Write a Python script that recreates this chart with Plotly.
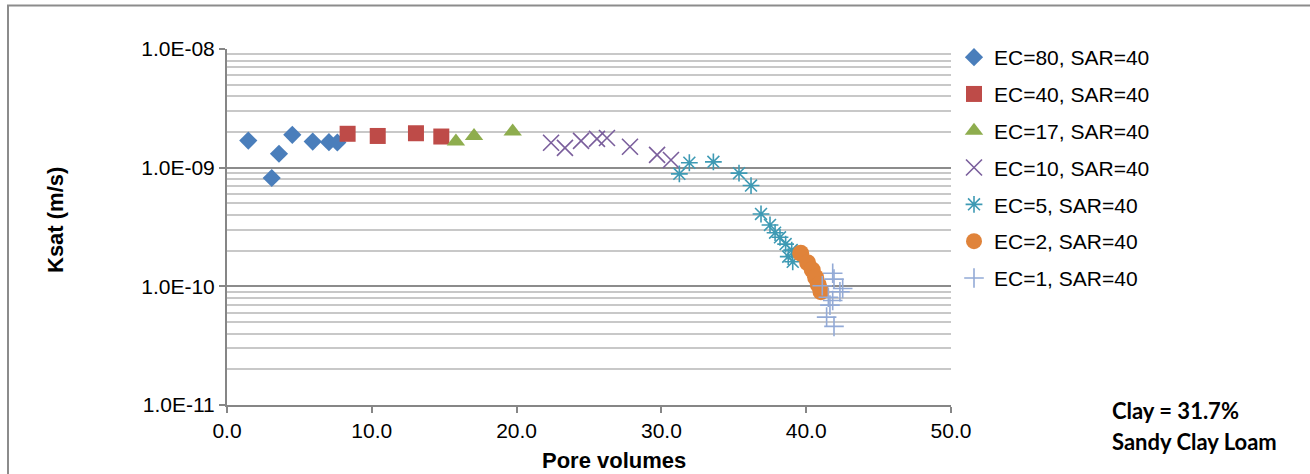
import plotly.graph_objects as go

# ---- data ----
ec80_x = [1.47, 3.09, 3.59, 4.51, 5.92, 7.04, 7.62]
ec80_y = [1.69e-9, 8.18e-10, 1.31e-9, 1.89e-9, 1.66e-9, 1.64e-9, 1.63e-9]

ec40_x = [8.33, 10.41, 13.05, 14.80]
ec40_y = [1.93e-9, 1.85e-9, 1.95e-9, 1.83e-9]

ec17_x = [15.81, 17.06, 19.73]
ec17_y = [1.66e-9, 1.85e-9, 2.02e-9]

ec10_x = [22.38, 23.34, 24.45, 25.55, 26.24, 27.83, 29.70, 30.66]
ec10_y = [1.62e-9, 1.47e-9, 1.68e-9, 1.75e-9, 1.78e-9, 1.50e-9, 1.28e-9, 1.16e-9]

ec5_x = [31.24, 31.93, 33.59, 35.36, 36.19, 36.88, 37.50, 37.85, 38.19, 38.58, 39.00, 38.76, 39.07]
ec5_y = [8.87e-10, 1.10e-9, 1.12e-9, 8.99e-10, 7.07e-10, 4.07e-10, 3.29e-10, 2.83e-10,
         2.59e-10, 2.27e-10, 2.02e-10, 1.78e-10, 1.61e-10]

ec2_x = [39.62, 40.10, 40.42, 40.65, 40.84, 41.02]
ec2_y = [1.90e-10, 1.58e-10, 1.37e-10, 1.19e-10, 1.03e-10, 9.0e-11]

ec1_x = [41.83, 41.92, 41.11, 42.52, 42.33, 41.53, 41.83, 41.64, 41.41, 41.92]
ec1_y = [1.29e-10, 1.15e-10, 1.01e-10, 9.6e-11, 9.0e-11, 8.1e-11, 7.6e-11, 6.95e-11, 5.5e-11, 4.6e-11]

series_names = ["EC=80, SAR=40", "EC=40, SAR=40", "EC=17, SAR=40", "EC=10, SAR=40",
                "EC=5, SAR=40", "EC=2, SAR=40", "EC=1, SAR=40"]

y_tickvals = [1e-11, 1e-10, 1e-9, 1e-8]
y_ticktext = ["1.0E-11", "1.0E-10", "1.0E-09", "1.0E-08"]
x_tickvals = [0, 10, 20, 30, 40, 50]

FONT = "Arial"

fig = go.Figure()

styles = [
    (ec80_x, ec80_y, dict(symbol="diamond", size=14, color="#4A7EBB")),
    (ec40_x, ec40_y, dict(symbol="square", size=16, color="#BE4B48")),
    (ec17_x, ec17_y, dict(symbol="triangle-up", size=16, color="#8EAD4E")),
    (ec10_x, ec10_y, dict(symbol="x-thin-open", size=16, color="#7A5E9C", line=dict(width=1.6, color="#7A5E9C"))),
    (ec5_x, ec5_y, dict(symbol="asterisk-open", size=14, color="#3E9AB4", line=dict(width=1.6, color="#3E9AB4"))),
    (ec2_x, ec2_y, dict(symbol="circle", size=17, color="#E0833A")),
    (ec1_x, ec1_y, dict(symbol="cross-thin-open", size=14, color="#93AAD6", line=dict(width=1.6, color="#93AAD6"))),
]

for i, (xs, ys, mk) in enumerate(styles):
    fig.add_trace(go.Scatter(x=xs, y=ys, mode="markers", name=series_names[i],
                             marker=mk, legendgroup=f"g{i}"))

minor_vals = [k * 10.0 ** n for n in (-11, -10, -9) for k in range(2, 10)]

fig.update_xaxes(range=[0, 50], tickvals=x_tickvals, tickformat=".1f",
                 showgrid=False, showline=True, linecolor="#868686", linewidth=2,
                 ticks="outside", ticklen=6, tickcolor="#868686", tickwidth=2,
                 tickfont=dict(family=FONT, size=21, color="#000000"), zeroline=False)
fig.update_yaxes(type="log", range=[-11, -8], tickvals=y_tickvals, ticktext=y_ticktext,
                 showgrid=True, gridcolor="#8C8C8C", gridwidth=2,
                 showline=True, linecolor="#868686", linewidth=2,
                 ticks="outside", ticklen=6, tickcolor="#868686", tickwidth=2,
                 tickfont=dict(family=FONT, size=21, color="#000000"),
                 minor=dict(tickvals=minor_vals, showgrid=True, gridcolor="#C8C8C8", gridwidth=1.5,
                            ticks=""))

W, H = 1310, 474
L, R, T, B = 227, 951, 49, 405
pw, ph = R - L, B - T

def px(xp):
    return (xp - L) / pw

def py(yp):
    return (B - yp) / ph

annotations = [
    dict(text="<b>Ksat (m/s)</b>", x=px(55), y=py(220), textangle=-90,
         font=dict(family=FONT, size=22, color="#000000")),
    dict(text="<b>Pore volumes</b>", x=px(614), y=py(460),
         font=dict(family=FONT, size=22, color="#000000")),
    dict(text="<b>Clay = 31.7%</b>", x=px(1110), y=py(410), xanchor="left",
         font=dict(family="Lato, Open Sans, sans-serif", size=22, color="#000000")),
    dict(text="<b>Sandy Clay Loam</b>", x=px(1110), y=py(441), xanchor="left",
         font=dict(family="Lato, Open Sans, sans-serif", size=22, color="#000000")),
]
for a in annotations:
    a.update(xref="paper", yref="paper", showarrow=False)
    if "xanchor" not in a:
        a["xanchor"] = "center"
    a["yanchor"] = "middle"

shapes = [
    dict(type="line", xref="paper", yref="paper", x0=px(7), x1=px(1312), y0=py(5.5), y1=py(5.5),
         line=dict(color="#8C8C8C", width=2)),
    dict(type="line", xref="paper", yref="paper", x0=px(8), x1=px(8), y0=py(5), y1=py(476),
         line=dict(color="#8C8C8C", width=2)),
]

fig.update_layout(
    width=W, height=H,
    margin=dict(l=L, r=W - R, t=T, b=H - B),
    paper_bgcolor="white", plot_bgcolor="white",
    showlegend=True,
    legend=dict(x=px(954), y=py(37), xanchor="left", yanchor="top",
                font=dict(family=FONT, size=21, color="#000000"),
                tracegroupgap=6.5, itemsizing="trace", bgcolor="rgba(0,0,0,0)",
                maxheight=440),
    annotations=annotations,
    shapes=shapes,
)

fig.write_html("out.html")
